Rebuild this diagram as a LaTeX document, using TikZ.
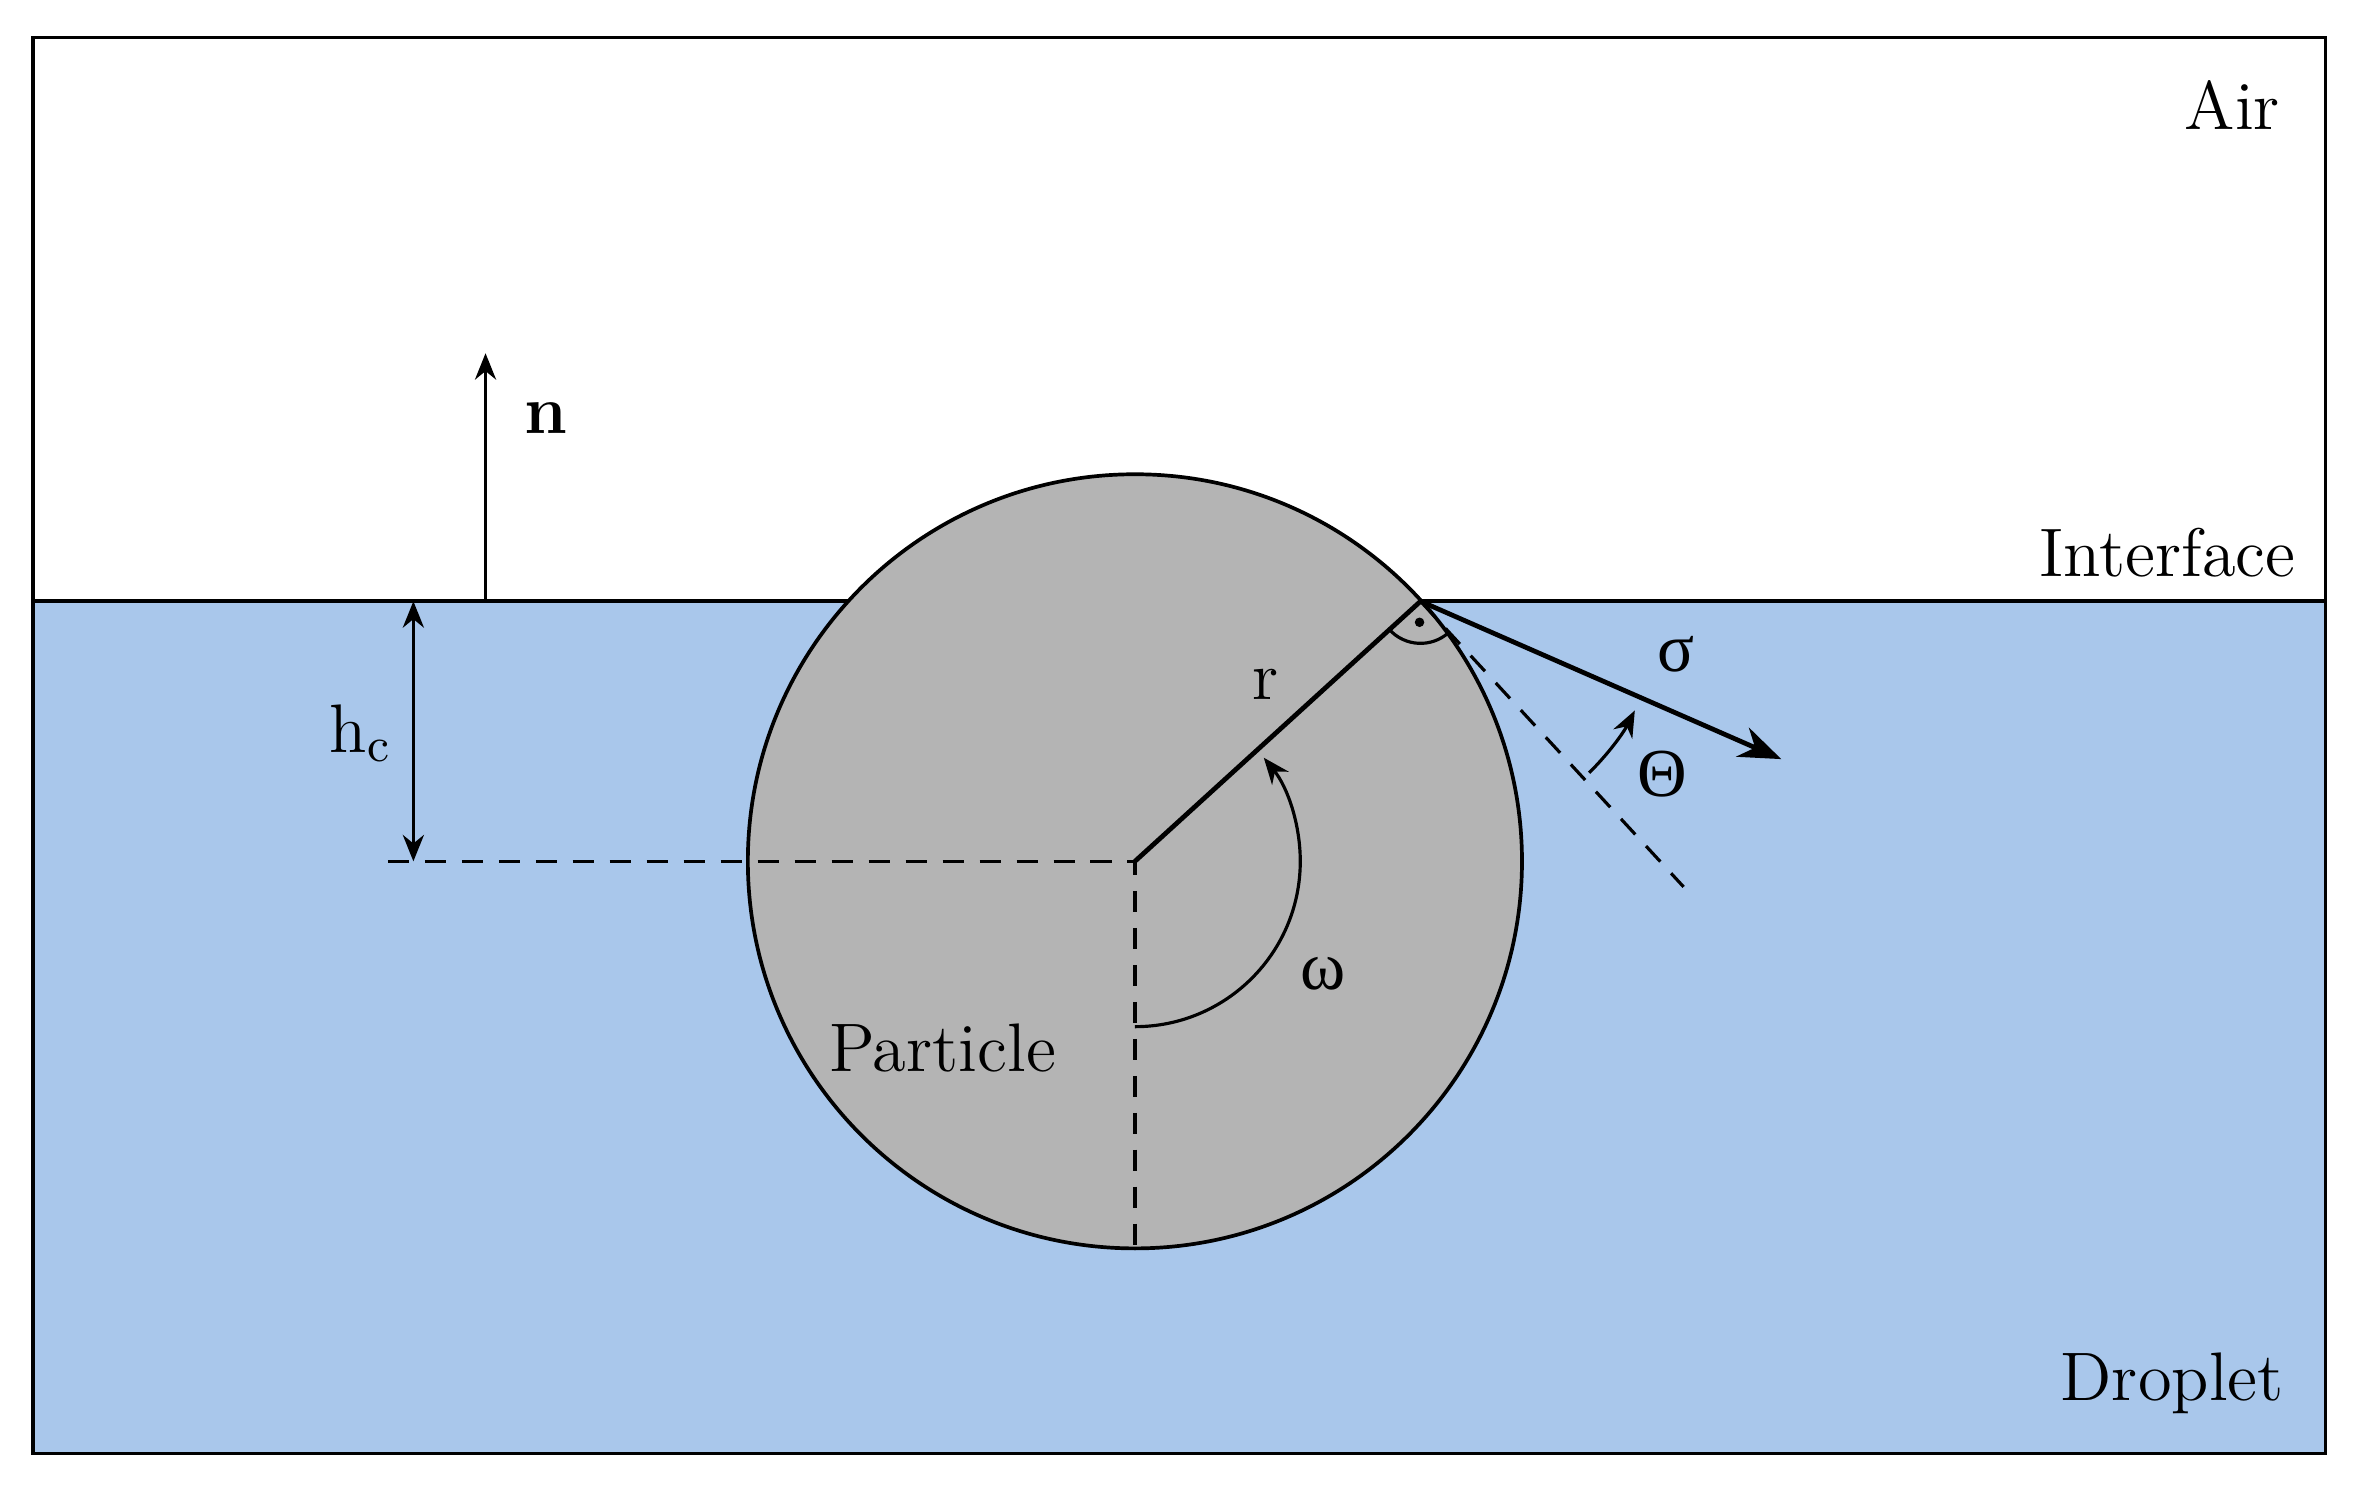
\documentclass[tikz,border=0pt]{standalone}
\usetikzlibrary{arrows.meta}
\usepackage{fontspec}
\newfontfamily\grk{Liberation Serif}
\definecolor{drop}{RGB}{169,199,235}
\definecolor{part}{RGB}{180,180,180}
\begin{document}
\begin{tikzpicture}[x=1cm,y=1cm,
  lbl/.style={font=\fontsize{13}{15}\selectfont,inner sep=1pt},
  arr/.style={-{Stealth[length=5pt,width=4pt]},line width=0.6pt},
  thick line/.style={line width=0.9pt},
  dash line/.style={dashed,line width=0.6pt,dash pattern=on 4pt off 3pt}]
\useasboundingbox (0,0) rectangle (15.68,-9.88);
\fill[drop] (0.22,-4.00) rectangle (15.47,-9.67);
\draw[line width=0.7pt] (0.22,-0.25) rectangle (15.47,-9.67);
\draw[line width=0.7pt] (0.22,-4.00) -- (15.47,-4.00);
\coordinate (O) at (7.55,-5.73);
\coordinate (C) at (9.45,-4.00);
\filldraw[fill=part,line width=0.7pt] (O) circle (2.575);
\coordinate (L) at (2.58,-5.73);
\coordinate (B) at (7.55,-8.31);
\draw[dash line] (L) -- (O) -- (B);
\coordinate (T) at (11.20,-5.90);
\draw[dash line] (C) -- (T);
\draw[thick line] (O) -- (C);
\node[lbl] (r) at (8.42,-4.55) {r};
\draw[arr] ([shift={(-90:1.10)}]O) arc (-90:38.8:1.10);
\node[lbl] (w) at (8.80,-6.48) {\grk ω};
\draw[line width=0.6pt] ([shift={(222.3:0.28)}]C) arc (222.3:312.3:0.28);
\fill ([shift={(267.3:0.14)}]C) circle (0.9pt);
\coordinate (S) at (11.85,-5.05);
\draw[thick line,-{Stealth[length=8pt,width=6pt]}] (C) -- (S);
\node[lbl] (s) at (11.15,-4.35) {\grk σ};
\draw[arr] ([shift={(-45.5:1.6)}]C) arc (-45.5:-27:1.6);
\node[lbl] (th) at (11.06,-5.15) {\grk Θ};
\coordinate (N0) at (3.23,-4.00);
\coordinate (N1) at (3.23,-2.35);
\draw[arr] (N0) -- (N1);
\node[lbl] (n) at (3.63,-2.78) {\textbf{n}};
\coordinate (H0) at (2.75,-4.00);
\coordinate (H1) at (2.75,-5.73);
\draw[arr,{Stealth[length=5pt,width=4pt]}-{Stealth[length=5pt,width=4pt]}] (H0) -- (H1);
\node[lbl] (hc) at (2.40,-4.88) {h$_\mathrm{c}$};
\node[lbl] (air) at (14.85,-0.70) {Air};
\node[lbl] (int) at (14.42,-3.68) {Interface};
\node[lbl] (dr) at (14.45,-9.20) {Droplet};
\node[lbl] (pa) at (6.27,-6.97) {Particle};
\end{tikzpicture}
\end{document}
